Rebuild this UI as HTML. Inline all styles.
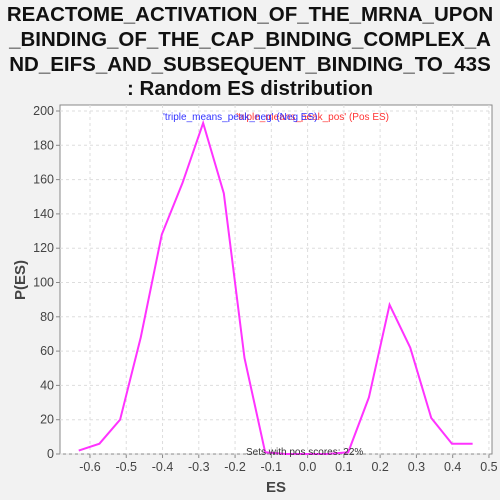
<!DOCTYPE html>
<html><head><meta charset="utf-8"><style>
body{margin:0;background:#f2f2f2;width:500px;height:500px;overflow:hidden;font-family:"Liberation Sans",sans-serif}
.t{position:absolute;left:-40px;width:580px;text-align:center;font-weight:bold;font-size:20.5px;color:#111;white-space:nowrap}
</style></head><body>
<div>
<div class="t" style="top:3px">REACTOME_ACTIVATION_OF_THE_MRNA_UPON</div>
<div class="t" style="top:28px">_BINDING_OF_THE_CAP_BINDING_COMPLEX_A</div>
<div class="t" style="top:53px">ND_EIFS_AND_SUBSEQUENT_BINDING_TO_43S</div>
<div class="t" style="top:77px">: Random ES distribution</div>
</div>
<svg id="c" width="500" height="500" style="position:absolute;left:0;top:0" font-family="Liberation Sans, sans-serif"></svg>
<script>
const esValues=[-0.631,-0.574,-0.517,-0.460,-0.402,-0.345,-0.288,-0.231,-0.174,-0.117,-0.060,-0.002,0.055,0.112,0.169,0.226,0.283,0.341,0.398,0.455];
const densities=[2,6,20,68,128,158,193,152,56,1,0,0,0,1,33,87,62,21,6,6];
const xTicks=[-0.6,-0.5,-0.4,-0.3,-0.2,-0.1,0.0,0.1,0.2,0.3,0.4,0.5];
const yTicks=[0,20,40,60,80,100,120,140,160,180,200];
const svg=document.getElementById('c');const NS='http://www.w3.org/2000/svg';
const L=60,R=492,T=105,B=454;
const xs=v=>307.6+v*362.7, ys=v=>454-v*1.715;
function el(tag,a,p){const e=document.createElementNS(NS,tag);for(const k in a)e.setAttribute(k,a[k]);(p||svg).appendChild(e);return e;}
const bg=el('rect',{x:L,y:T,width:R-L,height:B-T,fill:'#fff',stroke:'#888'});


xTicks.forEach(v=>{const x=xs(v);
const g=el('line',{x1:x,x2:x,y1:T,y2:B,stroke:'#ddd','stroke-dasharray':'3,3'});


el('line',{x1:x,x2:x,y1:B,y2:B+4,stroke:'#888'});
const t=el('text',{x:x,y:B+17,'text-anchor':'middle','font-size':12.5,fill:'#444'});t.textContent=v.toFixed(1);

});
yTicks.forEach(v=>{const y=ys(v);
const g=el('line',{x1:L,x2:R,y1:y,y2:y,stroke:'#ddd','stroke-dasharray':'3,3'});


el('line',{x1:L-4,x2:L,y1:y,y2:y,stroke:'#888'});
const t=el('text',{x:L-6,y:y+4,'text-anchor':'end','font-size':12.5,fill:'#444'});t.textContent=v;

});
const pl=el('polyline',{points:esValues.map((v,i)=>xs(v)+','+ys(densities[i])).join(' '),fill:'none',stroke:'#ff33ff','stroke-width':2});


const xt=el('text',{x:276,y:492,'text-anchor':'middle','font-size':15,'font-weight':'bold',fill:'#444'});xt.textContent='ES';


const yt=el('text',{x:0,y:0,'text-anchor':'middle','font-size':15,'font-weight':'bold',fill:'#444',transform:'translate(25,280) rotate(-90)'});yt.textContent='P(ES)';


const lp=el('text',{x:389,y:120,'font-size':10,fill:'#ff3333','text-anchor':'end'});lp.textContent="'triple_means_peak_pos' (Pos ES)";


const ln=el('text',{x:163,y:120,'font-size':10,fill:'#3333ff'});ln.textContent="'triple_means_peak_neg' (Neg ES)";


const an=el('text',{x:246,y:455,'font-size':10,fill:'#333'});an.textContent='Sets with pos scores: 22%';


</script>
</body></html>
